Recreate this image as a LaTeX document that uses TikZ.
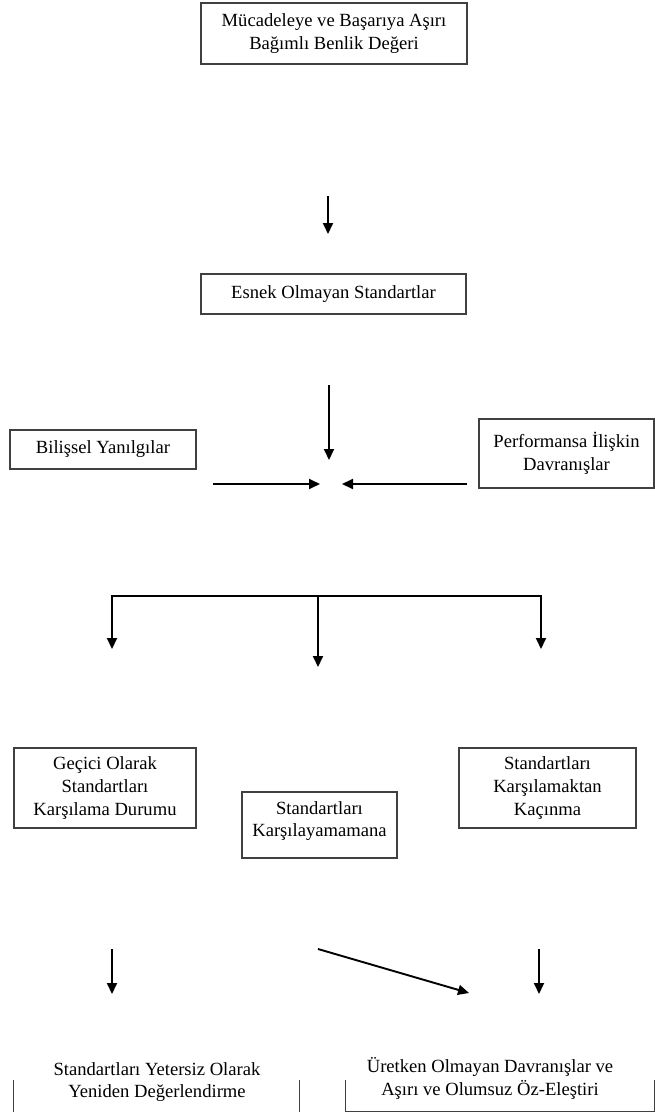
\documentclass[tikz,border=0pt]{standalone}
\usepackage{fontspec}
\setmainfont{Liberation Serif}
\usetikzlibrary{arrows.meta}
\begin{document}
\begin{tikzpicture}[x=1pt,y=-1pt,
  every node/.style={font=\fontsize{18.6}{22.6}\selectfont, align=center, inner sep=0pt},
  box/.style={draw=black!75, line width=1.1pt},
  edge/.style={line width=1.9pt, -{Triangle[length=11pt,width=10pt]}},
  plain/.style={line width=1.9pt},
  sideline/.style={draw=black!75, line width=1.1pt}]
\useasboundingbox[fill=white] (0,0) rectangle (655,1112);

% boxes
\node[box, minimum width=266, minimum height=61] (top) at (334,33.5) {Mücadeleye ve Başarıya Aşırı\\Bağımlı Benlik Değeri};
\node[box, minimum width=265, minimum height=40] (esnek) at (333.5,294) {Esnek Olmayan Standartlar};
\node[box, minimum width=186, minimum height=39] (bilis) at (103,449.5) {Bilişsel Yanılgılar};
\node[box, minimum width=175, minimum height=69] (perf) at (566.5,453.5) {Performansa İlişkin\\Davranışlar};
\node[box, minimum width=182, minimum height=80] (gecici) at (105,788) {Geçici Olarak\\Standartları\\Karşılama Durumu};
\node[box, minimum width=155, minimum height=66] (karsi) at (319.5,825) {};
\node (karsitxt) at (319.5,821) {Standartları\\Karşılayamamana};
\node[box, minimum width=177, minimum height=80] (kacin) at (547.5,788) {Standartları\\Karşılamaktan\\Kaçınma};

% bottom boxes (partially visible)
\node[minimum width=285, minimum height=64] (yeniden) at (156.5,1112) {};
\draw[sideline] (yeniden.north west) -- (yeniden.south west);
\draw[sideline] (yeniden.north east) -- (yeniden.south east);
\node (yenidentxt) at (157,1082) {Standartları Yetersiz Olarak\\Yeniden Değerlendirme};

\node[minimum width=308, minimum height=31] (uretken) at (500,1095.5) {};
\draw[sideline] (uretken.north west) -- (uretken.south west) -- (uretken.south east) -- (uretken.north east);
\node (uretkentxt) at (490,1078.5) {Üretken Olmayan Davranışlar ve\\Aşırı ve Olumsuz Öz-Eleştiri};

% connector end points
\coordinate (a1s) at (328,196);
\coordinate (a1e) at (328,234);
\coordinate (a2s) at (329,385);
\coordinate (a2e) at (329,460);
\coordinate (lls) at (213,484);
\coordinate (lle) at (320,484);
\coordinate (rls) at (467,484);
\coordinate (rle) at (342,484);
\coordinate (bl) at (112,596);
\coordinate (bc) at (318,596);
\coordinate (br) at (541,596);
\coordinate (blE) at (112,649);
\coordinate (bcE) at (318,667);
\coordinate (brE) at (541,649);
\coordinate (d1s) at (112,949);
\coordinate (d1e) at (112,994);
\coordinate (d2s) at (318,949);
\coordinate (d2e) at (469,993);
\coordinate (d3s) at (539,949);
\coordinate (d3e) at (539,994);

% connectors
\draw[edge] (a1s) -- (a1e);
\draw[edge] (a2s) -- (a2e);
\draw[edge] (lls) -- (lle);
\draw[edge] (rls) -- (rle);
\draw[plain, line cap=rect] (bl) -- (br);
\draw[edge] (bl) -- (blE);
\draw[edge] (bc) -- (bcE);
\draw[edge] (br) -- (brE);
\draw[edge] (d1s) -- (d1e);
\draw[edge] (d2s) -- (d2e);
\draw[edge] (d3s) -- (d3e);
\end{tikzpicture}
\end{document}
